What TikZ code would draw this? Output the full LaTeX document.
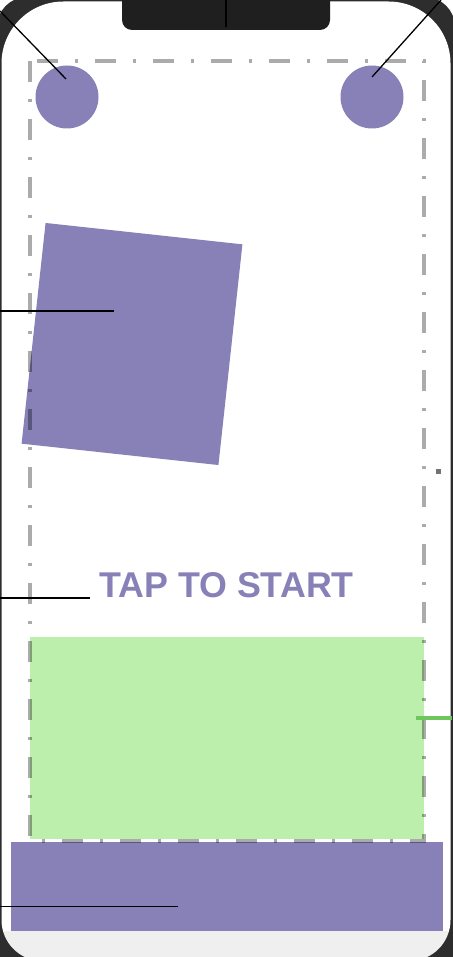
\documentclass[tikz,border=0pt]{standalone}
\usepackage{fontspec}
\setmainfont{Liberation Sans}
\usetikzlibrary{positioning}
\definecolor{shapecol}{RGB}{135,129,184}
\definecolor{touchcol}{RGB}{188,238,172}
\definecolor{touchline}{RGB}{110,198,92}
\definecolor{bezel}{RGB}{45,45,45}
\definecolor{homebar}{RGB}{239,239,239}

\begin{document}
\begin{tikzpicture}[x=1pt, y=-1pt, every node/.style={inner sep=0pt, outer sep=0pt},
  solid/.style={fill=shapecol, draw=none},
  guide/.style={draw=black, opacity=0.33, line width=4pt, dash pattern=on 21pt off 17pt on 3pt off 17pt},
  lead/.style={draw=black, line width=1.3pt}]
\useasboundingbox (0,0) rectangle (452,957);
\fill[bezel, rounded corners=30] (-3,-3) rectangle (455,1000);
\begin{scope}
  \clip (1.5,500) [rounded corners=62] -- (1.5,1.5) -- (450.5,1.5) -- (450.5,500)
    [rounded corners=41] -- (450.5,961) -- (1.5,961) -- cycle;
  \fill[white] (0,0) rectangle (452,931);
  \fill[homebar] (0,931) rectangle (452,970);
\end{scope}
\node[fill=black!88, rounded corners=10, minimum width=208, minimum height=40] (notch) at (226,10) {};
\node[solid, circle, minimum size=63] (btnL) at (67,97) {};
\node[solid, circle, minimum size=63] (btnR) at (372,97) {};
\node[solid, minimum width=198, minimum height=222, rotate=-6.2] (card) at (132,344) {};
\node[text=shapecol, font=\fontsize{35.8}{40}\selectfont\bfseries, anchor=base] (tapText) at (226.5,597) {TAP TO START};
\node[fill=touchcol, minimum width=394, minimum height=202] (touchZone) at (227,738) {};
\node[solid, minimum width=432, minimum height=89] (ground) at (227,886.5) {};
\draw[guide] (30,61) rectangle (424,841);
\node[fill=black!55, minimum size=5] (marker) at (438.5,471.5) {};
\coordinate (outL) at (0,11);        \coordinate (hitL) at (66,79);
\coordinate (outR) at (441,0);       \coordinate (hitR) at (372,77);
\coordinate (outCard) at (0,311);    \coordinate (hitCard) at (114,311);
\coordinate (outText) at (0,598);    \coordinate (hitText) at (90,598);
\coordinate (outGround) at (0,906.5);\coordinate (hitGround) at (178,906.5);
\coordinate (outNotch) at (226,0);   \coordinate (hitNotch) at (226,27);
\coordinate (hitTouch) at (416,718); \coordinate (outTouch) at (452,718);
\foreach \a/\b in {outL/hitL, outR/hitR, outCard/hitCard, outText/hitText, outGround/hitGround, outNotch/hitNotch}
  \draw[lead] (\a) -- (\b);
\draw[touchline, line width=4pt] (hitTouch) -- (outTouch);
\end{tikzpicture}
\end{document}
